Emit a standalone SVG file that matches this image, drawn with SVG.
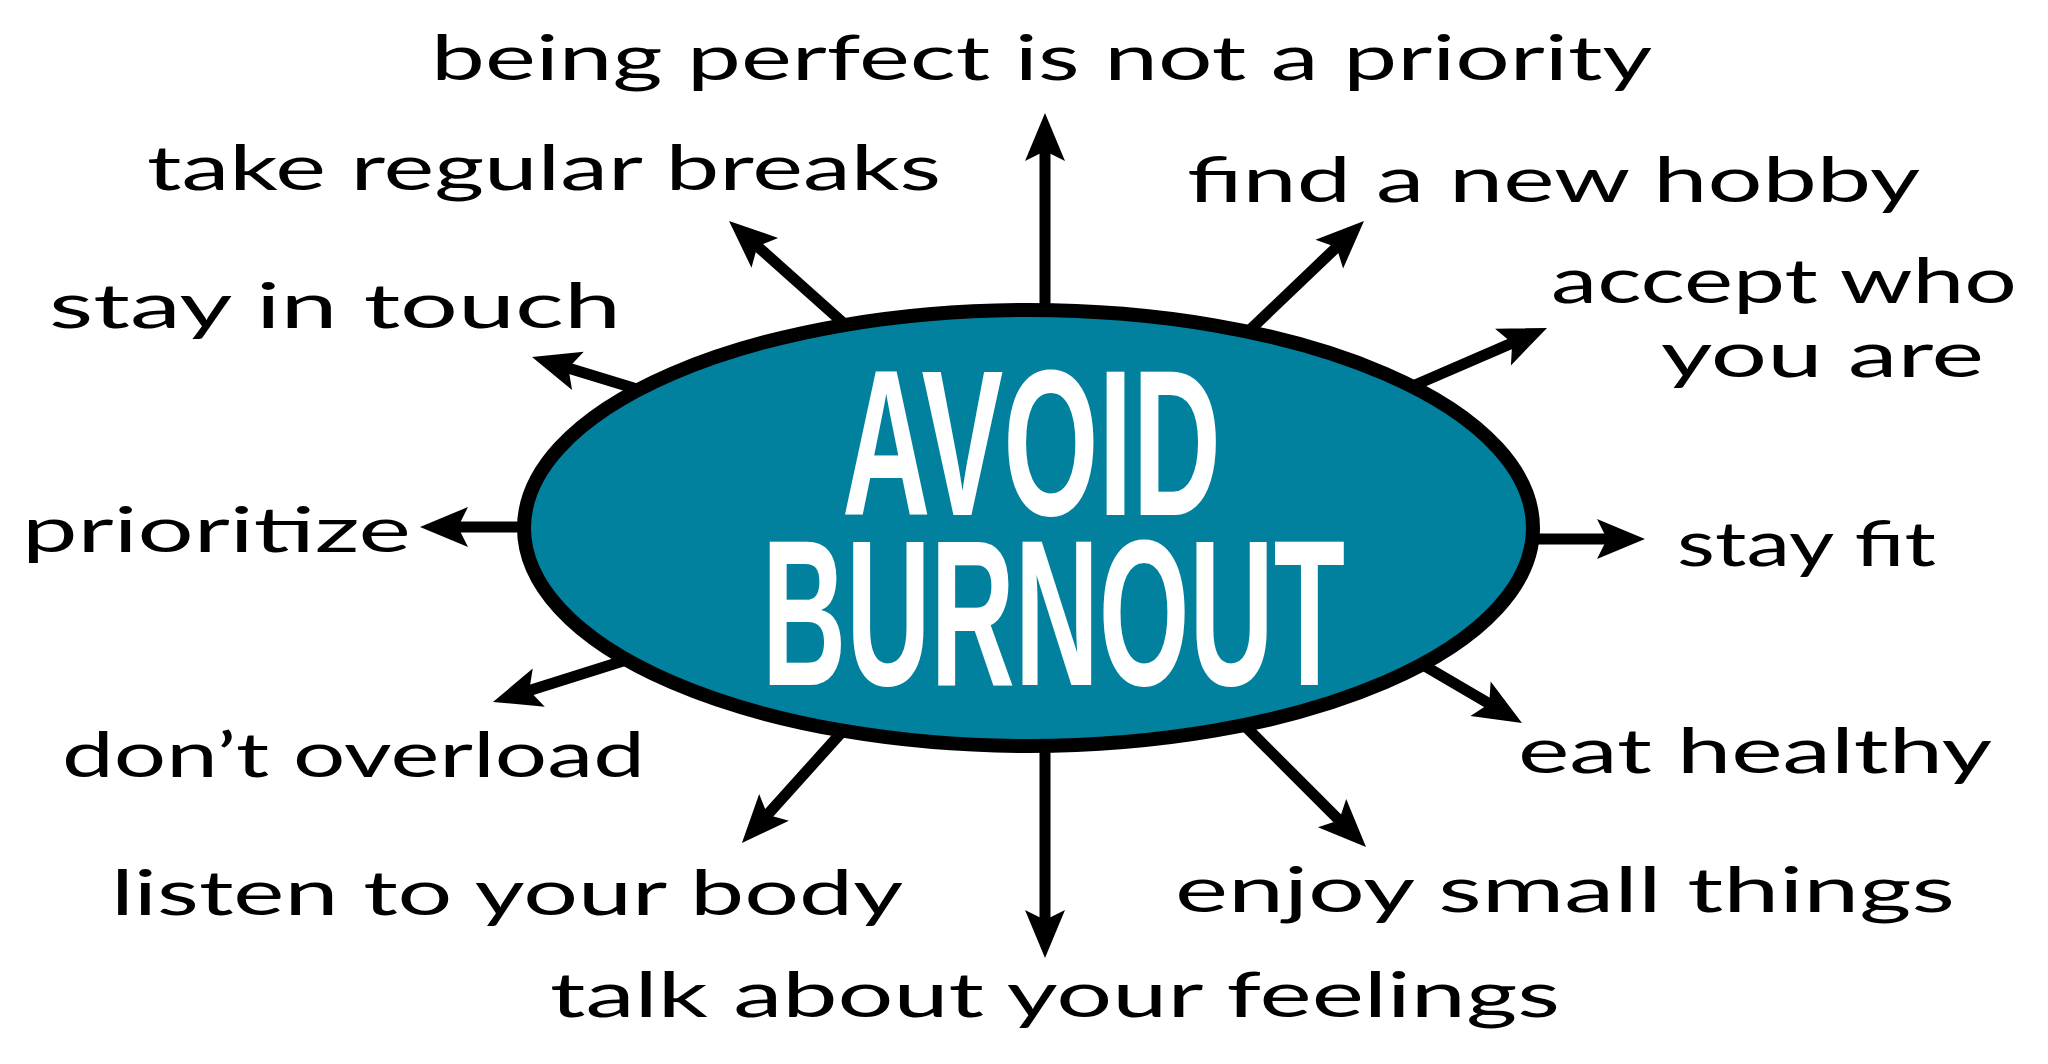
<svg xmlns="http://www.w3.org/2000/svg" width="2048" height="1064" viewBox="0 0 2048 1064">
  <style>
    .lbl { font-family: Lato, "Open Sans", "Liberation Sans", sans-serif; font-size: 62px; fill: #000; }
    .big { font-family: "Liberation Sans", Arial, sans-serif; font-weight: bold; font-size: 207px; fill: #fff; }
    .conn { stroke: #000; stroke-width: 11; fill: none; marker-end: url(#head); }
  </style>
  <defs>
    <marker id="head" markerUnits="userSpaceOnUse" markerWidth="60" markerHeight="50" refX="0" refY="0" orient="auto" overflow="visible">
      <path d="M30,0 L-18,-20 L-8,0 L-18,20 Z" fill="#000"/>
    </marker>
  </defs>
  <rect width="2048" height="1064" fill="#fff"/>

  <g id="connectors">
    <path class="conn" d="M1045,340 L1045,143"/>
    <path class="conn" d="M859,337 L751.4,240.9"/>
    <path class="conn" d="M1231,348 L1342.3,241.7"/>
    <path class="conn" d="M1392,395 L1519.5,339.9"/>
    <path class="conn" d="M663,397 L560.7,365.7"/>
    <path class="conn" d="M555,527 L450,527"/>
    <path class="conn" d="M1505,539 L1615,539"/>
    <path class="conn" d="M639,656 L521.6,693"/>
    <path class="conn" d="M1406,655 L1496.1,707.8"/>
    <path class="conn" d="M850,723 L762,820.7"/>
    <path class="conn" d="M1045,720 L1045,928"/>
    <path class="conn" d="M1236,717 L1344.8,825.8"/>
  </g>

  <g id="center">
    <ellipse cx="1028.5" cy="528" rx="504.5" ry="218" fill="#02819e" stroke="#000" stroke-width="14"/>
    <text class="big" x="842" y="515" textLength="379" lengthAdjust="spacingAndGlyphs">AVOID</text>
    <text class="big" x="762" y="685" textLength="583" lengthAdjust="spacingAndGlyphs">BURNOUT</text>
  </g>

  <g id="n-perfect"><text class="lbl" x="431" y="80" textLength="1221" lengthAdjust="spacingAndGlyphs">being perfect is not a priority</text></g>
  <g id="n-breaks"><text class="lbl" x="147" y="190" textLength="794" lengthAdjust="spacingAndGlyphs">take regular breaks</text></g>
  <g id="n-hobby"><text class="lbl" x="1187" y="202" textLength="733" lengthAdjust="spacingAndGlyphs">find a new hobby</text></g>
  <g id="n-accept">
    <text class="lbl" x="1551" y="303" textLength="466" lengthAdjust="spacingAndGlyphs">accept who</text>
    <text class="lbl" x="1661" y="377" textLength="323" lengthAdjust="spacingAndGlyphs">you are</text>
  </g>
  <g id="n-touch"><text class="lbl" x="49" y="328" textLength="572" lengthAdjust="spacingAndGlyphs">stay in touch</text></g>
  <g id="n-prioritize"><text class="lbl" x="22" y="552" textLength="389" lengthAdjust="spacingAndGlyphs">prioritize</text></g>
  <g id="n-fit"><text class="lbl" x="1677" y="566" textLength="259" lengthAdjust="spacingAndGlyphs">stay fit</text></g>
  <g id="n-overload"><text class="lbl" x="62" y="777" textLength="583" lengthAdjust="spacingAndGlyphs">don’t overload</text></g>
  <g id="n-eat"><text class="lbl" x="1518" y="773" textLength="474" lengthAdjust="spacingAndGlyphs">eat healthy</text></g>
  <g id="n-listen"><text class="lbl" x="111" y="915" textLength="792" lengthAdjust="spacingAndGlyphs">listen to your body</text></g>
  <g id="n-enjoy"><text class="lbl" x="1175" y="912" textLength="780" lengthAdjust="spacingAndGlyphs">enjoy small things</text></g>
  <g id="n-talk"><text class="lbl" x="550" y="1017" textLength="1010" lengthAdjust="spacingAndGlyphs">talk about your feelings</text></g>
</svg>
